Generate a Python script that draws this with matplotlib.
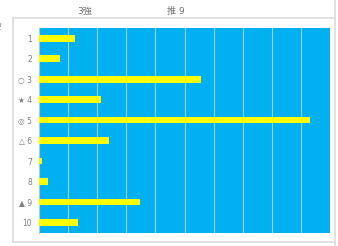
import matplotlib.pyplot as plt
from matplotlib.lines import Line2D

plt.rcParams['font.family'] = ['DejaVu Sans', 'Noto Sans CJK JP']

# данные
row_labels = ["1", "2", "○ 3", "★ 4", "◎ 5", "△ 6", "7", "8", "▲ 9", "10"]
values = [1.22, 0.71, 5.58, 2.14, 9.30, 2.39, 0.12, 0.32, 3.46, 1.35]
header_texts = ["3強", "推 9"]
x_max = 10

fig = plt.figure(figsize=(3.38, 2.46), dpi=100)
fig.patch.set_facecolor("white")

ax = fig.add_axes([39 / 338, 1 - 232.7 / 246, 291 / 338, 204.7 / 246])
ax.set_facecolor("#00B0F0")

pos = list(range(1, len(values) + 1))
ax.barh(pos, values, height=0.33, color="#FFFF00", zorder=3)

ax.set_xlim(0, x_max)
ax.set_ylim(10.5, 0.5)
ax.set_xticks(range(0, x_max + 1))
ax.set_xticklabels([])
ax.tick_params(axis="x", length=0)
ax.set_yticks(pos)
ax.set_yticklabels(row_labels, fontsize=5.5, color="#808080")
ax.tick_params(axis="y", length=0, pad=5)
ax.grid(axis="x", color="#d9d9d9", linewidth=0.8, alpha=0.75, zorder=1)
ax.set_axisbelow(True)
for side in ["top", "right", "bottom"]:
    ax.spines[side].set_visible(False)
ax.spines["left"].set_color("#bfbfbf")
ax.spines["left"].set_linewidth(0.8)

# рамка
c = "#dcdcdc"
fx = lambda px: px / 338
fy = lambda py: 1 - py / 246
fig.add_artist(Line2D([fx(13), fx(335)], [fy(18), fy(18)], color=c, lw=1.2))
fig.add_artist(Line2D([fx(13), fx(13)], [fy(18), fy(242)], color=c, lw=1.2))
fig.add_artist(Line2D([fx(13), fx(335)], [fy(242), fy(242)], color=c, lw=1.2))
fig.add_artist(Line2D([fx(335), fx(335)], [fy(0), fy(246)], color=c, lw=1.2))

# заголовки
fig.text(fx(85), fy(11), header_texts[0], fontsize=6.5, color="#707070",
         ha="center", va="center")
fig.text(fx(176), fy(11), header_texts[1], fontsize=6.5, color="#707070",
         ha="center", va="center")
fig.text(fx(-1), fy(28), "!", fontsize=6, color="#909090", ha="left", va="center")

fig.savefig("out.png", dpi=100)
plt.close(fig)
